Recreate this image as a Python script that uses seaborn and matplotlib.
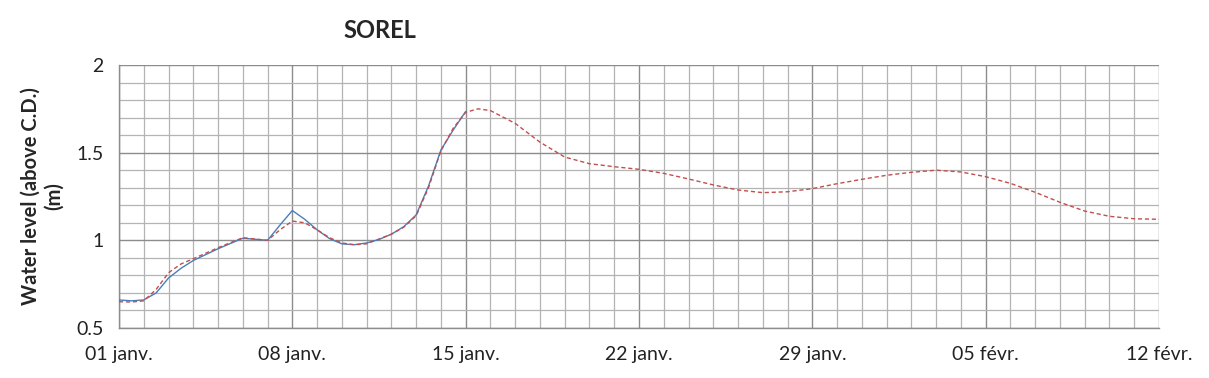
import numpy as np
import pandas as pd
import matplotlib
matplotlib.use('Agg')
import matplotlib.pyplot as plt
import seaborn as sns
from matplotlib.ticker import MultipleLocator, FixedLocator, FixedFormatter

# observed water level (days since 01 janv.)
obs_days = [0, 0.5, 1, 1.5, 2, 2.5, 3, 4, 5, 6, 6.5, 7, 7.5, 8, 8.5, 9, 9.5, 10,
            10.5, 11, 11.5, 12, 12.5, 13, 13.5, 14]
obs_level = [0.66, 0.655, 0.66, 0.7, 0.785, 0.84, 0.885, 0.952, 1.012, 1.0, 1.087,
             1.17, 1.12, 1.06, 1.01, 0.98, 0.975, 0.985, 1.005, 1.035, 1.078, 1.145,
             1.31, 1.515, 1.63, 1.735]

# forecast water level
fc_days = [0, 0.5, 1, 1.5, 2, 2.5, 3, 4, 5, 6, 6.5, 7, 7.5, 8, 8.5, 9, 9.5, 10,
           11, 11.5, 12, 12.5, 13, 13.5, 14, 14.5, 15, 16, 17, 18, 19, 20, 21, 22,
           23, 24, 25, 26, 27, 28, 29, 30, 31, 32, 33, 34, 35, 36, 37, 38, 39, 40,
           41, 42]
fc_level = [0.65, 0.648, 0.655, 0.72, 0.815, 0.865, 0.895, 0.958, 1.015, 1.0, 1.06,
            1.11, 1.1, 1.06, 1.015, 0.985, 0.975, 0.98, 1.035, 1.075, 1.14, 1.3,
            1.51, 1.64, 1.73, 1.75, 1.74, 1.667, 1.56, 1.475, 1.437, 1.42, 1.405,
            1.382, 1.35, 1.316, 1.287, 1.272, 1.277, 1.295, 1.323, 1.348, 1.371,
            1.388, 1.40, 1.39, 1.363, 1.325, 1.274, 1.217, 1.167, 1.137, 1.123, 1.12]

tick_days = [0, 7, 14, 21, 28, 35, 42]
tick_labels = ['01 janv.', '08 janv.', '15 janv.', '22 janv.', '29 janv.', '05 févr.', '12 févr.']

sns.set_style('white')
plt.rcParams['font.family'] = ['Lato', 'DejaVu Sans']

obs = pd.DataFrame({'day': obs_days, 'level': obs_level})
fc = pd.DataFrame({'day': fc_days, 'level': fc_level})

fig = plt.figure(figsize=(12.09, 3.78), dpi=100)
ax = fig.add_axes([119 / 1209, 1 - 328 / 378, 1040 / 1209, 263 / 378])

sns.lineplot(data=obs, x='day', y='level', ax=ax, color='#4a7ebb', linewidth=1.0, zorder=3)
sns.lineplot(data=fc, x='day', y='level', ax=ax, color='#c0504d', linewidth=1.0,
             dashes=False, zorder=4)
ax.lines[-1].set_linestyle((0, (3, 2)))

ax.set_xlim(0, 42)
ax.set_ylim(0.5, 2)
ax.xaxis.set_major_locator(FixedLocator(tick_days))
ax.xaxis.set_major_formatter(FixedFormatter(tick_labels))
ax.xaxis.set_minor_locator(MultipleLocator(1))
ax.yaxis.set_major_locator(MultipleLocator(0.5))
ax.yaxis.set_minor_locator(MultipleLocator(0.1))
ax.yaxis.set_major_formatter(plt.FuncFormatter(lambda v, p: f'{v:g}'))

ax.grid(which='minor', color='#b4b4b4', linewidth=0.9)
ax.grid(which='major', color='#8c8c8c', linewidth=1.0)
ax.set_axisbelow(True)

for s in ['top', 'right']:
    ax.spines[s].set_visible(False)
for s in ['left', 'bottom']:
    ax.spines[s].set_color('#8c8c8c')
    ax.spines[s].set_linewidth(1.0)

ax.tick_params(which='major', direction='out', length=5, color='#8c8c8c', labelsize=14,
               labelcolor='#222222', pad=6)
ax.tick_params(which='minor', length=0)
ax.tick_params(axis='x', pad=8)

ax.set_xlabel('')
ax.set_ylabel('')
fig.text(42 / 1209, 1 - 196 / 378, 'Water level (above C.D.)\n(m)', rotation=90,
         ha='center', va='center', fontsize=14.5, fontweight='bold', linespacing=1.2)

fig.text(380 / 1209, 1 - 30 / 378, 'SOREL', ha='center', va='center', fontsize=17,
         fontweight='bold')

fig.savefig('out.png', dpi=100)
